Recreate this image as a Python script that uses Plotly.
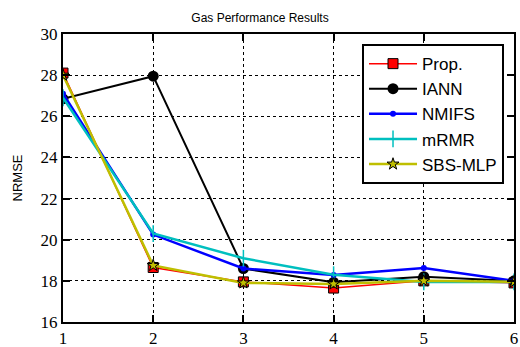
import plotly.graph_objects as go

x = [1, 2, 3, 4, 5, 6]
prop = [28.1, 18.65, 17.95, 17.65, 18.0, 17.9]
iann = [26.85, 27.95, 18.6, 17.93, 18.2, 18.0]
nmifs = [27.1, 20.25, 18.6, 18.28, 18.62, 18.0]
mrmr = [26.9, 20.3, 19.1, 18.3, 17.95, 17.95]
sbs = [28.0, 18.75, 17.9, 17.85, 18.0, 17.95]

fig = go.Figure()
fig.add_trace(go.Scatter(x=x, y=prop, name="Prop.", mode="lines+markers",
    line=dict(color="red", width=1.5),
    marker=dict(symbol="square", size=10, color="red", line=dict(color="black", width=1))))
fig.add_trace(go.Scatter(x=x, y=iann, name="IANN", mode="lines+markers",
    line=dict(color="black", width=2),
    marker=dict(symbol="circle", size=11, color="black")))
fig.add_trace(go.Scatter(x=x, y=nmifs, name="NMIFS", mode="lines+markers",
    line=dict(color="blue", width=2.5),
    marker=dict(symbol="circle", size=6, color="blue")))
fig.add_trace(go.Scatter(x=x, y=mrmr, name="mRMR", mode="lines+markers",
    line=dict(color="#00bfbf", width=2.5),
    marker=dict(symbol="line-ns", size=12, color="#00bfbf", line=dict(color="#00bfbf", width=1.5))))
fig.add_trace(go.Scatter(x=x, y=sbs, name="SBS-MLP", mode="lines+markers",
    line=dict(color="#bfbf00", width=2.5),
    marker=dict(symbol="star", size=9, color="#bfbf00", line=dict(color="black", width=1))))

axis_common = dict(showline=True, linecolor="black", linewidth=2, mirror="ticks",
                   ticks="inside", ticklen=7, tickcolor="black", tickwidth=1.5,
                   showgrid=True, gridcolor="black", griddash="dot", gridwidth=1,
                   zeroline=False, automargin=False,
                   tickfont=dict(family="Liberation Serif", size=17, color="black"))

fig.update_layout(
    width=520, height=347,
    margin=dict(l=63, r=6, t=34, b=25),
    paper_bgcolor="white", plot_bgcolor="white",
    title=dict(text="Gas Performance Results", x=0.5, xanchor="center",
               y=1 - 18/347, yanchor="middle",
               font=dict(family="Liberation Sans", size=12, color="black")),
    xaxis=dict(range=[1, 6], tickvals=[1, 2, 3, 4, 5, 6], **axis_common),
    yaxis=dict(range=[16, 30], tickvals=[16, 18, 20, 22, 24, 26, 28, 30],
               title=dict(text="NRMSE", standoff=15,
                          font=dict(family="Liberation Sans", size=13, color="black")),
               **axis_common),
    legend=dict(x=0.663, y=0.965, xanchor="left", yanchor="top",
                bgcolor="white", bordercolor="black", borderwidth=2,
                font=dict(family="Liberation Sans", size=17, color="black"),
                tracegroupgap=0, itemwidth=48),
    showlegend=True,
)

fig.write_html("out.html")
